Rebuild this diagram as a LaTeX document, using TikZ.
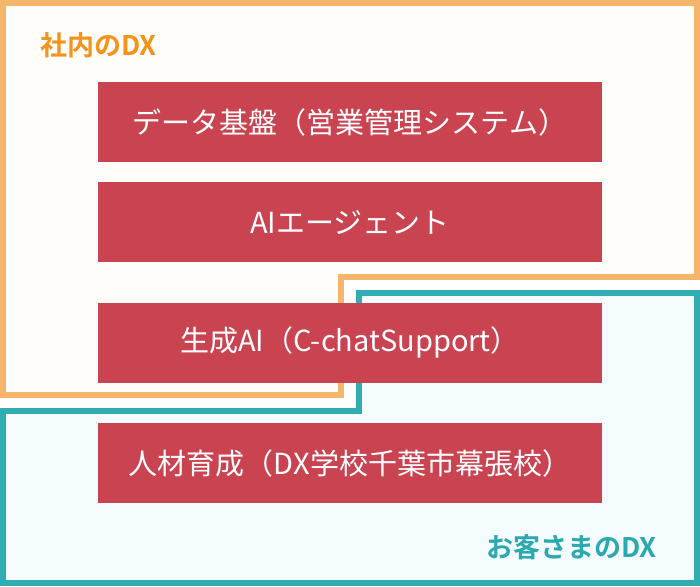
\documentclass[tikz,border=0pt]{standalone}
\usepackage{fontspec}
\setmainfont{Noto Sans CJK JP}[BoldFont={Noto Sans CJK JP Bold}]
\usepackage{xcolor}
\usetikzlibrary{positioning}

\definecolor{barred}{HTML}{C94351}
\definecolor{innerline}{HTML}{F5B56B}
\definecolor{innertext}{HTML}{F3931C}
\definecolor{innerfill}{HTML}{FFFDF9}
\definecolor{outerline}{HTML}{2FADB3}
\definecolor{outertext}{HTML}{2BA9B0}
\definecolor{outerfill}{HTML}{F5FCFD}

\tikzset{
  barbox/.style={fill=barred, text=white, minimum width=504pt, minimum height=80pt,
    inner sep=0pt, font=\fontsize{29}{29}\selectfont},
  arealabel/.style={anchor=west, inner sep=0pt, font=\fontsize{27}{27}\selectfont\bfseries}
}

\begin{document}
\begin{tikzpicture}[x=1pt, y=-1pt]
    \useasboundingbox (0,0) rectangle (700,586);
    % 社内の領域
    \draw[innerline, fill=innerfill, line width=6pt]
        (3,3) -- (697,3) -- (697,277) -- (341,277) -- (341,394.5) -- (3,394.5) -- cycle;
    % お客さまの領域
    \draw[outerline, fill=outerfill, line width=6pt]
        (359,293) -- (697,293) -- (697,583) -- (3,583) -- (3,411) -- (359,411) -- cycle;
    \node[arealabel, text=innertext] (inlabel) at (40,45) {社内のDX};
    \node[arealabel, text=outertext] (outlabel) at (486,547) {お客さまのDX};
    % 四つの帯
    \node[barbox] (data) at (350,122) {データ基盤（営業管理システム）};
    \node[barbox, below=20pt of data] (agent) {AIエージェント};
    \node[barbox, below=40pt of agent] (genai) {生成AI（C-chatSupport）};
    \node[barbox, below=40pt of genai] (school) {人材育成（DX学校千葉市幕張校）};
\end{tikzpicture}
\end{document}
